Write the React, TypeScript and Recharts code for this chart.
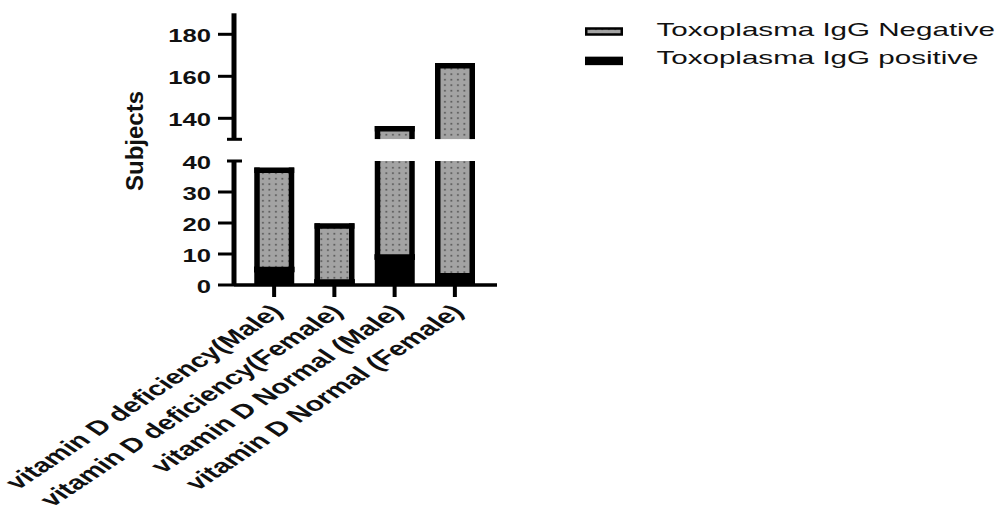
import React from "react";
import { Bar, BarChart, Label, Legend, XAxis, YAxis } from "recharts";

// groups on the x axis
const categories = [
  "vitamin D deficiency(Male)",
  "vitamin D deficiency(Female)",
  "vitamin D Normal (Male)",
  "vitamin D Normal (Female)",
];

// subjects per group
const positive = [5, 1, 9, 3];
const negative = [32, 18, 126, 162];

const seriesNames = ["Toxoplasma IgG Negative", "Toxoplasma IgG positive"];

// broken y axis: two segments
const lowerTicks = [0, 10, 20, 30, 40];
const upperTicks = [130, 140, 160, 180];
const lowerDomain = [0, 40];
const upperDomain = [130, 190];

const rows = categories.map((name, i) => ({
  name,
  positive: positive[i],
  negative: negative[i],
}));

const FONT = "'Liberation Sans', Arial, sans-serif";
const SW = 5.5;

// bar with a thick outline, but no outline where the segment is cut by the axis break
const makeBarShape = (plotTop: number, plotBottom: number) => (props: any) => {
  const { x, y, width, height, fill } = props;
  if (!height || height < 0.5) return null;
  const top = y > plotTop + 0.5;
  const bottom = y + height < plotBottom - 0.5;
  const h = SW / 2;
  const y0 = top ? y - h : y;
  const y1 = bottom ? y + height + h : y + height;
  return (
    <g>
      <rect x={x} y={y} width={width} height={height} fill={fill} />
      <line x1={x} x2={x} y1={y0} y2={y1} stroke="#000" strokeWidth={SW} />
      <line x1={x + width} x2={x + width} y1={y0} y2={y1} stroke="#000" strokeWidth={SW} />
      {top && <line x1={x - h} x2={x + width + h} y1={y} y2={y} stroke="#000" strokeWidth={SW} />}
      {bottom && (
        <line x1={x - h} x2={x + width + h} y1={y + height} y2={y + height} stroke="#000" strokeWidth={SW} />
      )}
    </g>
  );
};

const makeYTick = (capValue: number, capLabel: boolean) => (props: any) => {
  const { x, y, payload } = props;
  const v = payload.value;
  const isCap = v === capValue;
  return (
    <g>
      {isCap ? (
        <line x1={x - 7} x2={x + 8} y1={y} y2={y} stroke="#000" strokeWidth={3} />
      ) : (
        <line x1={x - 16} x2={x} y1={y} y2={y} stroke="#000" strokeWidth={3} />
      )}
      {(!isCap || capLabel) && (
        <text
          transform={`translate(${x - 23} ${y}) scale(1.45 1)`}
          textAnchor="end"
          dy={8}
          fontSize={17.7}
          fontWeight="bold"
          fontFamily={FONT}
          fill="#111"
        >
          {v}
        </text>
      )}
    </g>
  );
};

const XTick = (props: any) => {
  const { x, y, payload } = props;
  return (
    <text
      transform={`translate(${x + 10} ${y + 16}) scale(1.5 1) rotate(-45)`}
      textAnchor="end"
      fontSize={20}
      fontWeight="bold"
      fontFamily={FONT}
      fill="#111"
    >
      {payload.value}
    </text>
  );
};

const SubjectsLabel = () => (
  <text
    x={143}
    y={141}
    transform="rotate(-90 143 141)"
    textAnchor="middle"
    fontSize={24}
    fontWeight="bold"
    fontFamily={FONT}
    fill="#111"
  >
    Subjects
  </text>
);

const renderLegend = (props: any) => {
  const items = [...(props.payload ?? [])].sort(
    (a, b) => seriesNames.indexOf(a.value) - seriesNames.indexOf(b.value)
  );
  return (
    <svg width={423} height={70}>
      {items.map((it, i) => (
        <g key={it.value}>
          <rect
            x={6.25}
            y={18.5 + i * 29.4}
            width={35.5}
            height={6}
            fill={it.color}
            stroke="#000"
            strokeWidth={2.5}
          />
          <text
            transform={`translate(76.5 ${25.7 + i * 27.8}) scale(1.59 1)`}
            fontSize={18.6}
            fontFamily={FONT}
            fill="#111"
          >
            {it.value}
          </text>
        </g>
      ))}
    </svg>
  );
};

const lowerShape = makeBarShape(161, 285);
const upperShape = makeBarShape(13.3, 139.3);

export default function App() {
  const xPad = { left: 10, right: 12 };
  return (
    <div
      style={{
        position: "absolute",
        left: 0,
        top: 0,
        width: 1003,
        height: 510,
        background: "#fff",
        overflow: "hidden",
      }}
    >
      <svg width={0} height={0} style={{ position: "absolute" }}>
        <defs>
          <pattern id="dots" patternUnits="userSpaceOnUse" width={6.5} height={5.5}>
            <rect width={6.5} height={5.5} fill="#a3a3a3" />
            <rect x={2} y={2} width={1.8} height={1.4} fill="#4a4a4a" />
          </pattern>
        </defs>
      </svg>

      {/* lower segment: 0 - 40 */}
      <div style={{ position: "absolute", left: 0, top: 0 }}>
        <BarChart
          width={1003}
          height={510}
          data={rows}
          margin={{ top: 161, right: 506, bottom: 165, left: 0 }}
          barSize={34.5}
        >
          <XAxis
            dataKey="name"
            height={60}
            padding={xPad}
            interval={0}
            tickSize={12}
            tickMargin={0}
            axisLine={{ stroke: "#000", strokeWidth: 3.5 }}
            tickLine={{ stroke: "#000", strokeWidth: 4 }}
            tick={<XTick />}
          />
          <YAxis
            width={234}
            type="number"
            domain={lowerDomain}
            ticks={lowerTicks}
            interval={0}
            allowDataOverflow
            tickSize={0}
            tickMargin={0}
            tickLine={false}
            axisLine={{ stroke: "#000", strokeWidth: 5 }}
            tick={makeYTick(40, true)}
          >
            <Label content={<SubjectsLabel />} />
          </YAxis>
          <Bar
            dataKey="positive"
            name={seriesNames[1]}
            stackId="a"
            fill="#000"
            shape={lowerShape}
            isAnimationActive={false}
          />
          <Bar
            dataKey="negative"
            name={seriesNames[0]}
            stackId="a"
            fill="url(#dots)"
            shape={lowerShape}
            isAnimationActive={false}
          />
        </BarChart>
      </div>

      {/* upper segment: 130 - 190 */}
      <div style={{ position: "absolute", left: 0, top: 0 }}>
        <BarChart
          width={1003}
          height={150}
          data={rows}
          margin={{ top: 13.3, right: 506, bottom: 10.7, left: 0 }}
          barSize={34.5}
        >
          <XAxis dataKey="name" hide padding={xPad} />
          <YAxis
            width={234}
            type="number"
            domain={upperDomain}
            ticks={upperTicks}
            interval={0}
            allowDataOverflow
            tickSize={0}
            tickMargin={0}
            tickLine={false}
            axisLine={{ stroke: "#000", strokeWidth: 5 }}
            tick={makeYTick(130, false)}
          />
          <Legend
            layout="vertical"
            align="center"
            verticalAlign="middle"
            wrapperStyle={{ left: 580, top: 10, width: 423, height: 70 }}
            content={renderLegend}
          />
          <Bar
            dataKey="positive"
            name={seriesNames[1]}
            stackId="a"
            fill="#000"
            shape={upperShape}
            isAnimationActive={false}
          />
          <Bar
            dataKey="negative"
            name={seriesNames[0]}
            stackId="a"
            fill="url(#dots)"
            shape={upperShape}
            isAnimationActive={false}
          />
        </BarChart>
      </div>
    </div>
  );
}
